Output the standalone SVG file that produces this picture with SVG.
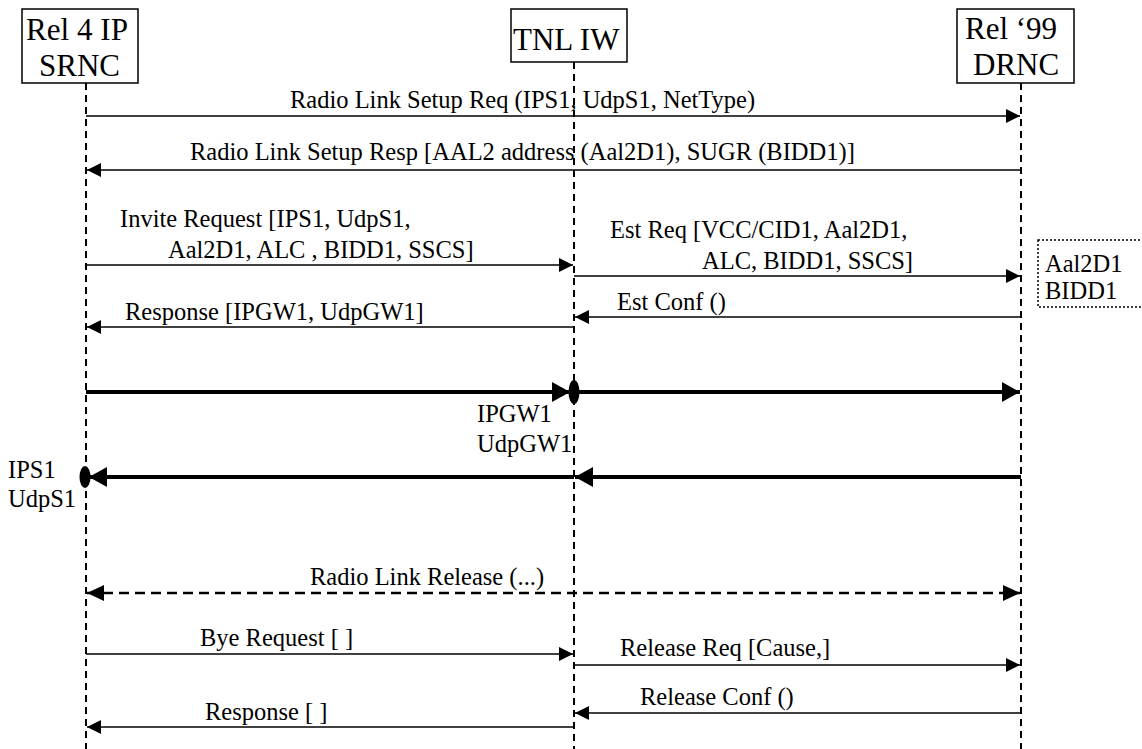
<svg xmlns="http://www.w3.org/2000/svg" width="1142" height="749" viewBox="0 0 1142 749">
<style>
text{font-family:"Liberation Serif","Times New Roman",serif;fill:#000}
.hdr{font-size:31px}
.lbl{font-size:24.5px}
.box{fill:#fff;stroke:#000;stroke-width:1.5}
.life{stroke:#000;stroke-width:2;stroke-dasharray:7 5;fill:none}
.msg{stroke:#000;stroke-width:1.6;fill:none}
.thick{stroke:#000;stroke-width:4;fill:none}
.dash{stroke:#000;stroke-width:2.6;stroke-dasharray:10 6;fill:none}
.note{fill:none;stroke:#000;stroke-width:1.5;stroke-dasharray:2 2}
</style>
<defs>
<marker id="ah" markerUnits="userSpaceOnUse" markerWidth="14" markerHeight="14" refX="14" refY="7" orient="auto"><path d="M0,0 L14,7 L0,14 z" fill="#000"/></marker>
<marker id="ahT" markerUnits="userSpaceOnUse" markerWidth="18" markerHeight="20" refX="18" refY="10" orient="auto"><path d="M0,0 L18,10 L0,20 z" fill="#000"/></marker>
<marker id="ahD" markerUnits="userSpaceOnUse" markerWidth="17" markerHeight="16" refX="17" refY="8" orient="auto-start-reverse"><path d="M0,0 L17,8 L0,16 z" fill="#000"/></marker>
</defs>
<rect width="1142" height="749" fill="#fff"/>
<g id="srnc">
<rect class="box" x="22" y="9" width="116" height="74"/>
<text class="hdr" x="26" y="40" textLength="102" lengthAdjust="spacingAndGlyphs">Rel 4 IP</text>
<text class="hdr" x="39" y="76">SRNC</text>
<line class="life" x1="86" y1="83" x2="86" y2="749"/>
</g>
<g id="tnliw">
<rect class="box" x="511" y="9" width="116" height="53"/>
<text class="hdr" x="513" y="50">TNL IW</text>
<line class="life" x1="574" y1="62" x2="574" y2="749"/>
</g>
<g id="drnc">
<rect class="box" x="957" y="9" width="117" height="74"/>
<text class="hdr" x="965" y="39">Rel ‘99</text>
<text class="hdr" x="973" y="75">DRNC</text>
<line class="life" x1="1021" y1="83" x2="1021" y2="749"/>
</g>
<g id="note">
<rect class="note" x="1038" y="240" width="110" height="67"/>
<text class="lbl" x="1045" y="272">Aal2D1</text>
<text class="lbl" x="1045" y="299">BIDD1</text>
</g>
<g id="connectors">
<line class="msg" x1="86" y1="116" x2="1020" y2="116" marker-end="url(#ah)"/>
<text class="lbl" x="290" y="108">Radio Link Setup Req (IPS1, UdpS1, NetType)</text>
<line class="msg" x1="1021" y1="170" x2="87" y2="170" marker-end="url(#ah)"/>
<text class="lbl" x="190" y="160">Radio Link Setup Resp [AAL2 address (Aal2D1), SUGR (BIDD1)]</text>
<line class="msg" x1="86" y1="265" x2="573" y2="265" marker-end="url(#ah)"/>
<text class="lbl" x="120" y="227">Invite Request [IPS1, UdpS1,</text>
<text class="lbl" x="168" y="258">Aal2D1, ALC , BIDD1, SSCS]</text>
<line class="msg" x1="574" y1="276" x2="1020" y2="276" marker-end="url(#ah)"/>
<text class="lbl" x="610" y="238">Est Req [VCC/CID1, Aal2D1,</text>
<text class="lbl" x="702" y="269">ALC, BIDD1, SSCS]</text>
<line class="msg" x1="1021" y1="317" x2="575" y2="317" marker-end="url(#ah)"/>
<text class="lbl" x="617" y="310">Est Conf ()</text>
<line class="msg" x1="574" y1="327" x2="87" y2="327" marker-end="url(#ah)"/>
<text class="lbl" x="125" y="320">Response [IPGW1, UdpGW1]</text>
<line class="thick" x1="86" y1="392" x2="570" y2="392" marker-end="url(#ahT)"/>
<ellipse cx="574" cy="392" rx="5.5" ry="12" fill="#000"/>
<line class="thick" x1="574" y1="392" x2="1020" y2="392" marker-end="url(#ahT)"/>
<text class="lbl" x="477" y="422">IPGW1</text>
<text class="lbl" x="477" y="452">UdpGW1</text>
<line class="thick" x1="1021" y1="477" x2="575" y2="477" marker-end="url(#ahT)"/>
<line class="thick" x1="574" y1="477" x2="89" y2="477" marker-end="url(#ahT)"/>
<ellipse cx="85" cy="477" rx="5.5" ry="11" fill="#000"/>
<text class="lbl" x="8" y="478">IPS1</text>
<text class="lbl" x="8" y="507">UdpS1</text>
<line class="dash" x1="87" y1="593" x2="1020" y2="593" marker-start="url(#ahD)" marker-end="url(#ahD)"/>
<text class="lbl" x="310" y="585">Radio Link Release (...)</text>
<line class="msg" x1="86" y1="654" x2="573" y2="654" marker-end="url(#ah)"/>
<text class="lbl" x="200" y="646">Bye Request [ ]</text>
<line class="msg" x1="574" y1="665" x2="1020" y2="665" marker-end="url(#ah)"/>
<text class="lbl" x="620" y="656">Release Req [Cause,]</text>
<line class="msg" x1="1021" y1="713" x2="575" y2="713" marker-end="url(#ah)"/>
<text class="lbl" x="640" y="705">Release Conf ()</text>
<line class="msg" x1="574" y1="727" x2="87" y2="727" marker-end="url(#ah)"/>
<text class="lbl" x="205" y="720">Response [ ]</text>
</g>
</svg>
